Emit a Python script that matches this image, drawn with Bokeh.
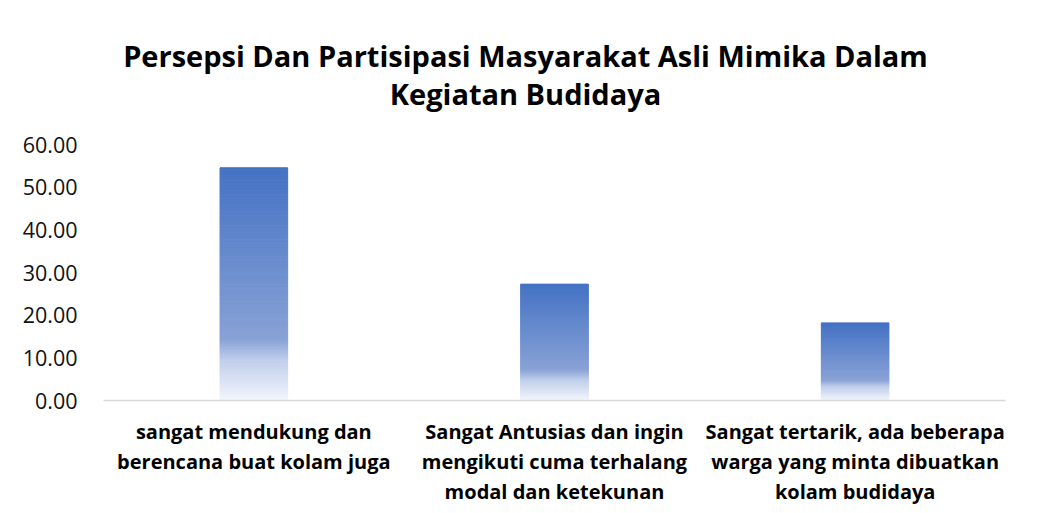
from bokeh.plotting import figure
from bokeh.models import FixedTicker, NumeralTickFormatter, ColumnDataSource, Range1d
from bokeh.core.properties import value
from bokeh.embed import file_html
from bokeh.resources import INLINE

# ---- data ----
categories = [
    "sangat mendukung dan\nberencana buat kolam juga",
    "Sangat Antusias dan ingin\nmengikuti cuma terhalang\nmodal dan ketekunan",
    "Sangat tertarik, ada beberapa\nwarga yang minta dibuatkan\nkolam budidaya",
]
values = [54.55, 27.27, 18.18]
y_ticks = [0, 10, 20, 30, 40, 50, 60]
title_lines = ["Persepsi Dan Partisipasi Masyarakat Asli Mimika Dalam", "Kegiatan Budidaya"]

FONT = "Open Sans"

# ---- layout constants (pixels) ----
W, H = 1025, 513
FRAME_BOTTOM = 400          # pixel row of the value 0
PX_PER_60 = 256             # pixels between 0 and 60
Y_END = 60 * FRAME_BOTTOM / PX_PER_60   # frame extends to the top of the canvas

def px_to_y(px):
    return (FRAME_BOTTOM - px) / PX_PER_60 * 60

# gradient stops (fraction from top of bar, rgb)
stops = [(0.0, (68, 114, 196)), (0.74, (137, 162, 214)), (0.83, (192, 207, 235)), (1.0, (242, 245, 251))]

def grad_color(f):
    for (f0, c0), (f1, c1) in zip(stops[:-1], stops[1:]):
        if f0 <= f <= f1:
            t = (f - f0) / (f1 - f0) if f1 > f0 else 0
            c = tuple(int(round(a + (b - a) * t)) for a, b in zip(c0, c1))
            return "#%02x%02x%02x" % c
    return "#%02x%02x%02x" % stops[-1][1]

N = 150
xs, bottoms, tops, colors = [], [], [], []
for cat, v in zip(categories, values):
    for i in range(N):
        xs.append(cat)
        tops.append(v * (1 - i / N))
        bottoms.append(v * (1 - (i + 1) / N))
        colors.append(grad_color((i + 0.5) / N))

src = ColumnDataSource(dict(x=xs, top=tops, bottom=bottoms, color=colors))

p = figure(
    x_range=categories, y_range=Range1d(0, Y_END),
    width=W, height=H,
    output_backend="svg", toolbar_location=None,
    min_border_left=103, min_border_right=20, min_border_top=0, min_border_bottom=H - FRAME_BOTTOM,
)
p.vbar(x="x", top="top", bottom="bottom", width=0.225, fill_color="color",
       line_color="color", line_width=1, source=src)

# chart title (two lines), centred on the chart area
tsrc = ColumnDataSource(dict(x=[categories[1]] * 2, y=[px_to_y(55), px_to_y(93)], text=title_lines))
p.text(x="x", y="y", text="text", source=tsrc, x_offset=-29,
       text_align="center", text_baseline="middle",
       text_font=value(FONT), text_font_size="29px", text_font_style="bold", text_color="#000000")

p.xgrid.visible = False
p.ygrid.visible = False
p.outline_line_color = None

p.yaxis.ticker = FixedTicker(ticks=y_ticks)
p.yaxis.formatter = NumeralTickFormatter(format="0.00")
p.yaxis.axis_line_color = None
p.yaxis.major_tick_line_color = None
p.yaxis.minor_tick_line_color = None
p.yaxis.major_label_text_font = FONT
p.yaxis.major_label_text_font_size = "21.5px"
p.yaxis.major_label_text_color = "#111111"
p.yaxis.major_label_standoff = 20

p.xaxis.axis_line_color = "#d9d9d9"
p.xaxis.axis_line_width = 1.5
p.xaxis.major_tick_line_color = None
p.xaxis.minor_tick_line_color = None
p.xaxis.major_label_text_font = FONT
p.xaxis.major_label_text_font_size = "20px"
p.xaxis.major_label_text_font_style = "bold"
p.xaxis.major_label_text_color = "#000000"
p.xaxis.major_label_text_line_height = 1.12
p.xaxis.major_label_standoff = 11

p.x_range.range_padding = 0

open("out.html", "w").write(file_html(p, INLINE))
